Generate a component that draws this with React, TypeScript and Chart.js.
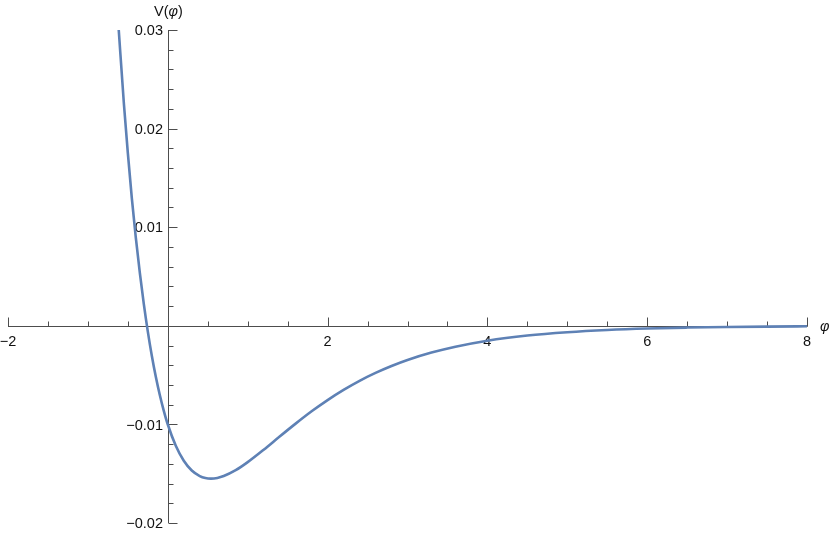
import React, { useEffect, useRef } from 'react';
import { Chart, registerables } from 'chart.js';

Chart.register(...registerables);

// Curve readings (φ, V(φ))
const PHI = [
  -0.614, -0.55, -0.5, -0.45, -0.4, -0.35, -0.3, -0.25, -0.2, -0.15, -0.1, -0.05, 0,
  0.1, 0.2, 0.3, 0.4, 0.47, 0.54, 0.62, 0.7, 0.85, 1.0, 1.2, 1.4, 1.6, 1.8, 2.0, 2.2,
  2.4, 2.6, 2.8, 3.0, 3.3, 3.6, 4.0, 4.5, 5.0, 5.5, 6.0, 6.5, 7.0, 7.5, 8.0,
];
const V = [
  0.03, 0.02257, 0.01752, 0.01293, 0.00891, 0.00536, 0.00219, -0.00059, -0.00304,
  -0.00517, -0.00702, -0.00862, -0.01001, -0.01217, -0.01369, -0.01468, -0.01524,
  -0.01544, -0.0155, -0.01543, -0.01524, -0.01465, -0.01383, -0.01257, -0.01123,
  -0.00992, -0.00867, -0.00753, -0.0065, -0.00558, -0.00478, -0.00408, -0.00347,
  -0.00272, -0.00212, -0.00151, -0.00099, -0.00065, -0.00042, -0.00027, -0.00018,
  -0.00012, -0.00008, -0.00005,
];

const X_MIN = -2;
const X_MAX = 8;
const Y_MIN = -0.02;
const Y_MAX = 0.03;

const X_TICKS = [-2, 2, 4, 6, 8];
const X_TICK_LABELS = ['\u22122', '2', '4', '6', '8'];
const X_MINOR = [-1.5, -1, -0.5, 0.5, 1, 1.5, 2.5, 3, 3.5, 4.5, 5, 5.5, 6.5, 7, 7.5];

const Y_TICKS = [-0.02, -0.01, 0.01, 0.02, 0.03];
const Y_TICK_LABELS = ['\u22120.02', '\u22120.01', '0.01', '0.02', '0.03'];
const Y_MINOR = [
  -0.018, -0.016, -0.014, -0.012, -0.008, -0.006, -0.004, -0.002, 0.002, 0.004, 0.006,
  0.008, 0.012, 0.014, 0.016, 0.018, 0.022, 0.024, 0.026, 0.028,
];

const X_TITLE = '\u03c6';
const Y_TITLE_PARTS = ['V(', '\u03c6', ')'];

const CURVE_COLOR = '#5E81B5';
const AXIS_COLOR = '#4d4d4d';
const TEXT_COLOR = '#111';
const FONT_FAMILY = '"Liberation Sans", Arial, sans-serif';
const FONT_SIZE = 14.5;

const axesPlugin = {
  id: 'mmaAxes',
  beforeDatasetsDraw(chart: any) {
    const { ctx, scales } = chart;
    const xs = scales.x;
    const ys = scales.y;
    const x0 = Math.round(xs.getPixelForValue(0)) + 0.5;
    const y0 = Math.round(ys.getPixelForValue(0)) + 0.5;
    ctx.save();
    ctx.strokeStyle = AXIS_COLOR;
    ctx.lineWidth = 1;

    // axis lines
    ctx.beginPath();
    ctx.moveTo(xs.getPixelForValue(X_MIN), y0);
    ctx.lineTo(xs.getPixelForValue(X_MAX) + 0.5, y0);
    ctx.moveTo(x0, ys.getPixelForValue(Y_MAX));
    ctx.lineTo(x0, ys.getPixelForValue(Y_MIN));
    ctx.stroke();

    // x ticks (pointing up)
    ctx.beginPath();
    X_TICKS.forEach((v) => {
      const px = Math.round(xs.getPixelForValue(v)) + 0.5;
      ctx.moveTo(px, y0);
      ctx.lineTo(px, y0 - 9);
    });
    X_MINOR.forEach((v) => {
      const px = Math.round(xs.getPixelForValue(v)) + 0.5;
      ctx.moveTo(px, y0);
      ctx.lineTo(px, y0 - 5);
    });
    // y ticks (pointing right)
    Y_TICKS.forEach((v) => {
      const py = Math.round(ys.getPixelForValue(v)) + 0.5;
      ctx.moveTo(x0, py);
      ctx.lineTo(x0 + 9, py);
    });
    Y_MINOR.forEach((v) => {
      const py = Math.round(ys.getPixelForValue(v)) + 0.5;
      ctx.moveTo(x0, py);
      ctx.lineTo(x0 + 5, py);
    });
    ctx.stroke();

    // tick labels
    ctx.fillStyle = TEXT_COLOR;
    ctx.font = `${FONT_SIZE}px ${FONT_FAMILY}`;
    ctx.textBaseline = 'alphabetic';
    ctx.textAlign = 'center';
    X_TICKS.forEach((v, i) => {
      ctx.fillText(X_TICK_LABELS[i], xs.getPixelForValue(v), y0 + 19);
    });
    ctx.textAlign = 'right';
    Y_TICKS.forEach((v, i) => {
      ctx.fillText(Y_TICK_LABELS[i], x0 - 5.5, ys.getPixelForValue(v) + 5.2);
    });

    // axis titles
    ctx.textAlign = 'left';
    ctx.font = `italic ${FONT_SIZE}px ${FONT_FAMILY}`;
    ctx.fillText(X_TITLE, xs.getPixelForValue(X_MAX) + 13, y0 + 4);

    const normal = `${FONT_SIZE}px ${FONT_FAMILY}`;
    const italic = `italic ${FONT_SIZE}px ${FONT_FAMILY}`;
    const fonts = [normal, italic, normal];
    let total = 0;
    const widths = Y_TITLE_PARTS.map((t, i) => {
      ctx.font = fonts[i];
      const w = ctx.measureText(t).width;
      total += w;
      return w;
    });
    let tx = x0 - total / 2;
    const ty = ys.getPixelForValue(Y_MAX) - 14;
    Y_TITLE_PARTS.forEach((t, i) => {
      ctx.font = fonts[i];
      ctx.fillText(t, tx, ty);
      tx += widths[i];
    });
    ctx.restore();
  },
};

export default function App() {
  const canvasRef = useRef<HTMLCanvasElement | null>(null);

  useEffect(() => {
    const canvas = canvasRef.current;
    if (!canvas) return;
    const points = PHI.map((p, i) => ({ x: p, y: V[i] }));
    const chart = new Chart(canvas, {
      type: 'scatter',
      data: {
        datasets: [
          {
            data: points,
            showLine: true,
            borderColor: CURVE_COLOR,
            backgroundColor: CURVE_COLOR,
            borderWidth: 2.6,
            pointRadius: 0,
            pointHoverRadius: 0,
            cubicInterpolationMode: 'monotone',
            fill: false,
          } as any,
        ],
      },
      options: {
        animation: false,
        responsive: false,
        maintainAspectRatio: false,
        events: [],
        layout: { padding: { left: 8, right: 23, top: 30, bottom: 10 } },
        plugins: {
          legend: { display: false },
          tooltip: { enabled: false },
          title: { display: false },
        },
        scales: {
          x: { type: 'linear', min: X_MIN, max: X_MAX, display: false },
          y: { type: 'linear', min: Y_MIN, max: Y_MAX, display: false },
        },
      },
      plugins: [axesPlugin],
    });
    return () => chart.destroy();
  }, []);

  return (
    <div style={{ position: 'absolute', left: 0, top: 0, width: 830, height: 533, background: '#fff' }}>
      <canvas ref={canvasRef} width={830} height={533} style={{ display: 'block' }} />
    </div>
  );
}
